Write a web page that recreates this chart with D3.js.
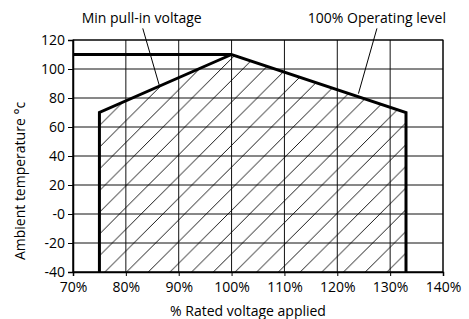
<!DOCTYPE html>
<html>
<head>
<meta charset="utf-8">
<script src="https://cdn.jsdelivr.net/npm/d3@7"></script>
<style>
  body { margin: 0; background: #fff; }
  text { font-family: "Open Sans", sans-serif; fill: #000; }
</style>
</head>
<body>
<div id="app"></div>
<script>
// 数据
const xTicks = [70, 80, 90, 100, 110, 120, 130, 140];
const xTickLabels = ['70%', '80%', '90%', '100%', '110%', '120%', '130%', '140%'];
const yTicks = [-40, -20, 0, 20, 40, 60, 80, 100, 120];
const yTickLabels = ['-40', '-20', '-0', '20', '40', '60', '80', '100', '120'];
// 工作区边界 (电压%, 温度)
const minPullIn = [[75, -40], [75, 70], [100, 110]];
const operatingLevel = [[100, 110], [133, 70], [133, -40]];
const maxTempLine = [[70, 110], [100, 110]];
// 注释: 文字位置与引线 (数据坐标)
const notes = [
  { text: 'Min pull-in voltage', at: [83, 128.5], from: [83.2, 128], to: [86.3, 89] },
  { text: '100% Operating level', at: [127.5, 128.5], from: [127.5, 128], to: [124, 83] }
];

const W = 469, H = 319;
const margin = { top: 40, right: 26, bottom: 47, left: 73 };

const x = d3.scaleLinear().domain([70, 140]).range([margin.left, W - margin.right]);
const y = d3.scaleLinear().domain([-40, 120]).range([H - margin.bottom, margin.top]);

const svg = d3.select('#app').append('svg').attr('width', W).attr('height', H);

// 斜线填充
svg.append('defs').append('pattern')
  .attr('id', 'hatch')
  .attr('patternUnits', 'userSpaceOnUse')
  .attr('x', 8)
  .attr('width', 21.7).attr('height', 21.7)
  .append('path')
  .attr('d', 'M0,21.7L21.7,0M-5,5L5,-5M16.7,26.7L26.7,16.7')
  .attr('stroke', '#000').attr('stroke-width', 0.9);

// 网格
const grid = svg.append('g');
grid.selectAll('line.v').data(xTicks).enter().append('line')
  .attr('x1', d => x(d)).attr('x2', d => x(d))
  .attr('y1', y(-40)).attr('y2', y(120))
  .attr('stroke', '#111').attr('stroke-width', 1);
grid.selectAll('line.h').data(yTicks).enter().append('line')
  .attr('y1', d => y(d)).attr('y2', d => y(d))
  .attr('x1', x(70)).attr('x2', x(140))
  .attr('stroke', '#111').attr('stroke-width', 1);

// 工作区
const area = minPullIn.concat(operatingLevel.slice(1));
svg.append('path')
  .attr('d', d3.line().x(d => x(d[0])).y(d => y(d[1]))(area) + 'Z')
  .attr('fill', 'url(#hatch)');

const line = d3.line().x(d => x(d[0])).y(d => y(d[1]));
[minPullIn.concat(operatingLevel.slice(1)), maxTempLine].forEach(pts => {
  svg.append('path').attr('d', line(pts))
    .attr('fill', 'none').attr('stroke', '#000').attr('stroke-width', 3)
    .attr('stroke-linejoin', 'miter');
});

// 坐标轴
const yAxis = svg.append('g').attr('transform', `translate(${margin.left},0)`)
  .call(d3.axisLeft(y).tickValues(yTicks).tickSize(5).tickPadding(3)
    .tickFormat((d, i) => yTickLabels[i]));
const xAxis = svg.append('g').attr('transform', `translate(0,${H - margin.bottom})`)
  .call(d3.axisBottom(x).tickValues(xTicks).tickSize(4).tickPadding(6)
    .tickFormat((d, i) => xTickLabels[i]));
[xAxis, yAxis].forEach(a => {
  a.select('.domain').attr('stroke', '#000').attr('stroke-width', 1.5);
  a.selectAll('.tick line').attr('stroke', '#000');
  a.selectAll('text').attr('font-size', 14).attr('font-family', '"Open Sans", sans-serif').attr('fill', '#000');
});
svg.append('rect')
  .attr('x', x(70)).attr('y', y(120))
  .attr('width', x(140) - x(70)).attr('height', y(-40) - y(120))
  .attr('fill', 'none').attr('stroke', '#000').attr('stroke-width', 1);

// 轴标题
svg.append('text')
  .attr('x', 248).attr('y', 316)
  .attr('text-anchor', 'middle').attr('font-size', 14)
  .text('% Rated voltage applied');
svg.append('text')
  .attr('transform', 'translate(25,181) rotate(-90)')
  .attr('text-anchor', 'middle').attr('font-size', 14)
  .text('Ambient temperature °c');

// 注释
notes.forEach(n => {
  svg.append('text')
    .attr('x', x(n.at[0])).attr('y', 23)
    .attr('text-anchor', 'middle').attr('font-size', 14)
    .text(n.text);
  svg.append('line')
    .attr('x1', x(n.from[0])).attr('y1', y(n.from[1]))
    .attr('x2', x(n.to[0])).attr('y2', y(n.to[1]))
    .attr('stroke', '#000').attr('stroke-width', 1);
});
</script>
</body>
</html>
